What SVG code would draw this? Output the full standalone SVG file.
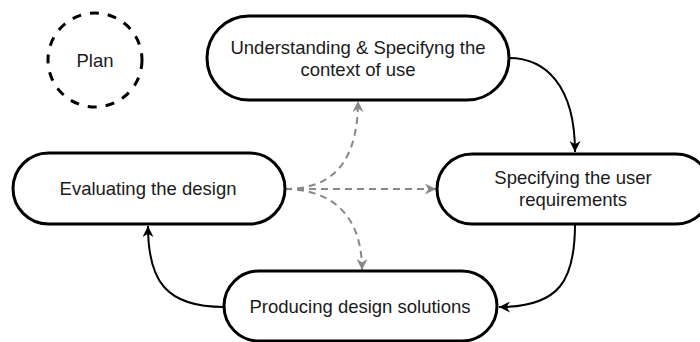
<svg xmlns="http://www.w3.org/2000/svg" width="700" height="342" viewBox="0 0 700 342">
<style>
.node{fill:#fff;stroke:#000;stroke-width:3}
.plan{fill:none;stroke:#000;stroke-width:3;stroke-dasharray:9 9}
.lbl{font-family:"Liberation Sans",Arial,sans-serif;font-size:18.5px;fill:#1a1a1a;text-anchor:middle}
.edge{fill:none;stroke:#000;stroke-width:2}
.dash{fill:none;stroke:#888;stroke-width:2;stroke-dasharray:7 5}
</style>
<defs>
<marker id="ab" markerUnits="userSpaceOnUse" viewBox="0 0 10 10" refX="10" refY="5" markerWidth="11" markerHeight="11" orient="auto">
<path d="M0 0 L10 5 L0 10 L3 5 Z" fill="#000"/>
</marker>
<marker id="ag" markerUnits="userSpaceOnUse" viewBox="0 0 10 10" refX="10" refY="5" markerWidth="11" markerHeight="11" orient="auto">
<path d="M0 0 L10 5 L0 10 L3 5 Z" fill="#888"/>
</marker>
</defs>
<rect width="700" height="342" fill="#fff"/>
<g id="connectors">
<path class="edge" d="M509 58 C545 58 575 85 575 152" marker-end="url(#ab)"/>
<path class="edge" d="M575 224 C575 280 560 307 499 307" marker-end="url(#ab)"/>
<path class="edge" d="M224 307 C165 307 148 280 148 226" marker-end="url(#ab)"/>
<path class="dash" d="M285 189 L436 189" marker-end="url(#ag)"/>
<path class="dash" d="M285 189 C320 189 358 175 358 101" marker-end="url(#ag)"/>
<path class="dash" d="M285 189 C320 189 362 205 362 270" marker-end="url(#ag)"/>
</g>
<g id="plan">
<circle class="plan" cx="95" cy="60" r="47"/>
<text class="lbl" x="95" y="66.5">Plan</text>
</g>
<g id="understanding">
<rect class="node" x="207" y="16" width="302" height="84" rx="42"/>
<text class="lbl" x="358" y="53.5">Understanding &amp; Specifyng the</text>
<text class="lbl" x="358" y="75.5">context of use</text>
</g>
<g id="requirements">
<rect class="node" x="437" y="154" width="274" height="70" rx="35"/>
<text class="lbl" x="573" y="184">Specifying the user</text>
<text class="lbl" x="573" y="206">requirements</text>
</g>
<g id="evaluating">
<rect class="node" x="13" y="153" width="272" height="71" rx="35.5"/>
<text class="lbl" x="148" y="195">Evaluating the design</text>
</g>
<g id="producing">
<rect class="node" x="224" y="271" width="273" height="70" rx="35"/>
<text class="lbl" x="360" y="312.5">Producing design solutions</text>
</g>
</svg>
